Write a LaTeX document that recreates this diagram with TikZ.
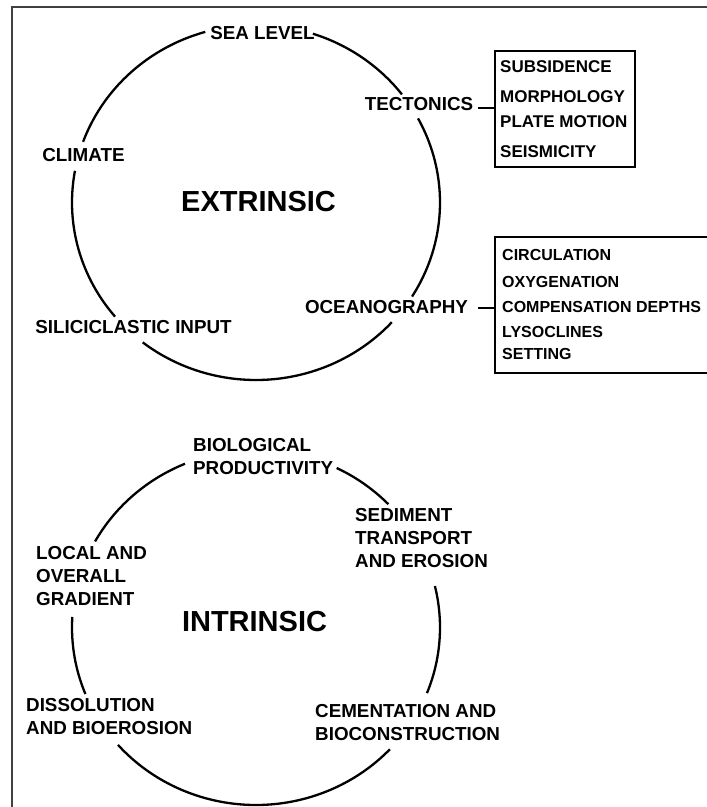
\documentclass[tikz,border=0pt]{standalone}
\usepackage{fontspec}
\setmainfont{Liberation Sans}
\usetikzlibrary{calc}
\begin{document}
\begin{tikzpicture}[x=1pt,y=-1pt,
  lab/.style={font=\fontsize{18.8}{23}\selectfont\bfseries, inner sep=0pt},
  mlab/.style={lab, align=left, anchor=north west},
  title/.style={font=\fontsize{29}{32}\selectfont\bfseries, inner sep=0pt},
  rowa/.style={font=\fontsize{17}{20}\selectfont\bfseries, inner sep=0pt, anchor=west},
  rowb/.style={font=\fontsize{16}{19}\selectfont\bfseries, inner sep=0pt, anchor=west},
  listbox/.style={draw, line width=2pt, inner sep=0pt},
  ring/.style={line width=2.3pt},
  link/.style={line width=2pt},
  frame/.style={line width=1.3pt, draw=black!75}]
\useasboundingbox (0,0) rectangle (707,807);
\clip (0,0) rectangle (707,807);
\fill[white] (0,0) rectangle (707,807);
% frame
\draw[frame] (12,810) -- (12,7) -- (710,7);
% ellipse arcs
\def\ringarc#1#2#3#4{\draw[ring] plot[domain=#3:#4, samples=50, smooth] ({#1+184*cos(\x)},{#2+177.5*sin(\x)});}
\ringarc{256}{202.5}{-72}{-37.5}
\ringarc{256}{202.5}{-28.3}{32}
\ringarc{256}{202.5}{42.4}{128}
\ringarc{256}{202.5}{140}{190.3}
\ringarc{256}{202.5}{200}{254}
\ringarc{256}{627.5}{-64}{-44}
\ringarc{256}{627.5}{-13.5}{21.7}
\ringarc{256}{627.5}{43.3}{138.6}
\ringarc{256}{627.5}{158}{183.4}
\ringarc{256}{627.5}{209}{247.3}
% extrinsic labels
\node[lab] (sea) at (262.5,33) {SEA LEVEL};
\node[lab] (tect) at (419,104.5) {TECTONICS};
\node[lab] (climate) at (83.5,155) {CLIMATE};
\node[title] (extr) at (258.5,201.5) {EXTRINSIC};
\node[lab] (silic) at (133.5,327.5) {SILICICLASTIC INPUT};
\node[lab] (ocean) at (386.5,307) {OCEANOGRAPHY};
% tectonics box
\node[listbox, minimum width=140pt, minimum height=116pt] (tbox) at (565,109) {};
\node[rowa] (t1) at (500,67) {SUBSIDENCE};
\node[rowa] (t2) at (500,97) {MORPHOLOGY};
\node[rowa] (t3) at (500,122) {PLATE MOTION};
\node[rowa] (t4) at (500,152) {SEISMICITY};
\draw[link] ([xshift=5pt,yshift=-3pt]tect.east) -- ([yshift=-3pt]tect.east -| tbox.west);
% oceanography box
\node[listbox, minimum width=220pt, minimum height=136pt] (obox) at (605,305) {};
\node[rowb] (o1) at (502,255) {CIRCULATION};
\node[rowb] (o2) at (502,282) {OXYGENATION};
\node[rowb] (o3) at (502,307) {COMPENSATION DEPTHS};
\node[rowb] (o4) at (502,332) {LYSOCLINES};
\node[rowb] (o5) at (502,354) {SETTING};
\draw[link] ([xshift=10pt,yshift=-1pt]ocean.east) -- ([yshift=-1pt]ocean.east -| obox.west);
% intrinsic labels
\node[mlab] (bio) at (193,438.3) {BIOLOGICAL\\PRODUCTIVITY};
\node[mlab] (sed) at (355,508.3) {SEDIMENT\\TRANSPORT\\AND EROSION};
\node[mlab] (local) at (36,546.3) {LOCAL AND\\OVERALL\\GRADIENT};
\node[title] (intr) at (254.5,621.5) {INTRINSIC};
\node[mlab] (diss) at (26,698.3) {DISSOLUTION\\AND BIOEROSION};
\node[mlab] (cem) at (315,704.3) {CEMENTATION AND\\BIOCONSTRUCTION};
\end{tikzpicture}
\end{document}
